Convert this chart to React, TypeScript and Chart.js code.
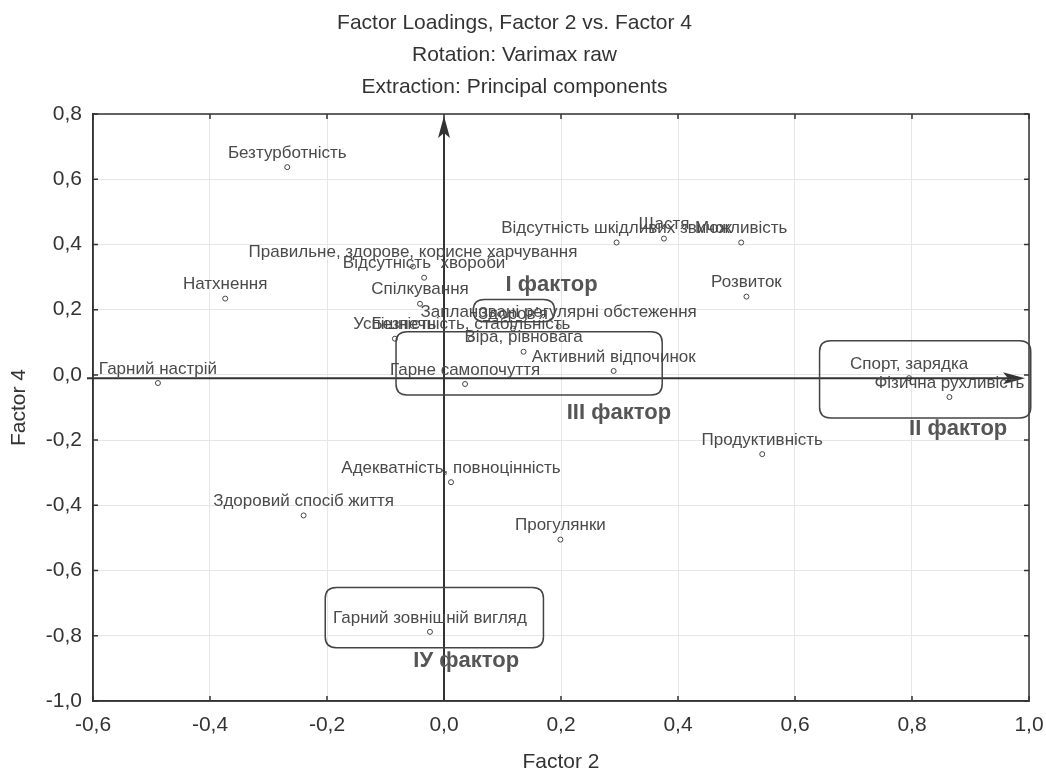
import React, { useEffect, useRef } from "react";
import { Chart, registerables } from "chart.js";

Chart.register(...registerables);

const titleLines = [
  "Factor Loadings, Factor 2 vs. Factor 4",
  "Rotation: Varimax raw",
  "Extraction: Principal components",
];

const categories = [
  "Безтурботність",
  "Натхнення",
  "Гарний настрій",
  "Правильне, здорове, корисне харчування",
  "Відсутність  хвороби",
  "Спілкування",
  "Успішність",
  "Безпечність, стабільність",
  "Здоров'я",
  "Заплановані регулярні обстеження",
  "Віра, рівновага",
  "Активний відпочинок",
  "Гарне самопочуття",
  "Відсутність шкідливих звичок",
  "Щастя",
  "Можливість",
  "Розвиток",
  "Спорт, зарядка",
  "Фізична рухливість",
  "Продуктивність",
  "Адекватність, повноцінність",
  "Здоровий спосіб життя",
  "Прогулянки",
  "Гарний зовнішній вигляд",
];

const factor2 = [
  -0.268, -0.374, -0.489, -0.053, -0.034, -0.041, -0.084, 0.046, 0.118, 0.196,
  0.136, 0.29, 0.036, 0.295, 0.376, 0.508, 0.517, 0.795, 0.864, 0.544, 0.012,
  -0.24, 0.199, -0.024,
];

const factor4 = [
  0.637, 0.234, -0.025, 0.332, 0.298, 0.218, 0.111, 0.111, 0.142, 0.148, 0.071,
  0.012, -0.028, 0.406, 0.418, 0.406, 0.24, -0.01, -0.068, -0.243, -0.329,
  -0.431, -0.505, -0.788,
];

const factorNames = ["I фактор", "II фактор", "III фактор", "IУ фактор"];
const factorNameX = [0.184, 0.879, 0.299, 0.038];
const factorNameY = [0.277, -0.166, -0.117, -0.877];

const groupX0 = [0.05, 0.642, -0.082, -0.203];
const groupX1 = [0.189, 1.003, 0.373, 0.17];
const groupY0 = [0.231, 0.105, 0.132, -0.652];
const groupY1 = [0.163, -0.132, -0.062, -0.837];

const axisArrowX = 0.0;
const axisArrowY = -0.01;

const xTickValues = [-0.6, -0.4, -0.2, 0, 0.2, 0.4, 0.6, 0.8, 1.0];
const yTickValues = [-1.0, -0.8, -0.6, -0.4, -0.2, 0, 0.2, 0.4, 0.6, 0.8];

const FONT = "'Liberation Sans', Arial, sans-serif";

function fmt(v: number) {
  return v.toFixed(1).replace(".", ",");
}

function roundRect(ctx: CanvasRenderingContext2D, x0: number, y0: number, x1: number, y1: number, r: number) {
  const x = Math.min(x0, x1), y = Math.min(y0, y1);
  const w = Math.abs(x1 - x0), h = Math.abs(y1 - y0);
  ctx.beginPath();
  ctx.moveTo(x + r, y);
  ctx.lineTo(x + w - r, y);
  ctx.quadraticCurveTo(x + w, y, x + w, y + r);
  ctx.lineTo(x + w, y + h - r);
  ctx.quadraticCurveTo(x + w, y + h, x + w - r, y + h);
  ctx.lineTo(x + r, y + h);
  ctx.quadraticCurveTo(x, y + h, x, y + h - r);
  ctx.lineTo(x, y + r);
  ctx.quadraticCurveTo(x, y, x + r, y);
  ctx.closePath();
}

const overlayPlugin = {
  id: "overlay",
  afterDatasetsDraw(chart: any) {
    const ctx: CanvasRenderingContext2D = chart.ctx;
    const xs = chart.scales.x;
    const ys = chart.scales.y;
    const area = chart.chartArea;
    ctx.save();

    // plot frame
    ctx.strokeStyle = "#333";
    ctx.lineWidth = 1.5;
    ctx.strokeRect(area.left, area.top, area.right - area.left, area.bottom - area.top);

    // inward tick marks
    ctx.lineWidth = 1.5;
    ctx.beginPath();
    xTickValues.forEach((v) => {
      const px = xs.getPixelForValue(v);
      ctx.moveTo(px, area.bottom);
      ctx.lineTo(px, area.bottom - 5);
      ctx.moveTo(px, area.top);
      ctx.lineTo(px, area.top + 5);
    });
    yTickValues.forEach((v) => {
      const py = ys.getPixelForValue(v);
      ctx.moveTo(area.left, py);
      ctx.lineTo(area.left + 5, py);
      ctx.moveTo(area.right, py);
      ctx.lineTo(area.right - 5, py);
    });
    ctx.stroke();

    // axis arrows
    ctx.strokeStyle = "#333";
    ctx.fillStyle = "#333";
    ctx.lineWidth = 2;
    const ax = xs.getPixelForValue(axisArrowX);
    const ay = ys.getPixelForValue(axisArrowY);
    ctx.beginPath();
    ctx.moveTo(ax, area.bottom);
    ctx.lineTo(ax, area.top + 18);
    ctx.stroke();
    ctx.beginPath();
    ctx.moveTo(ax, area.top + 2);
    ctx.lineTo(ax - 6, area.top + 24);
    ctx.lineTo(ax, area.top + 19);
    ctx.lineTo(ax + 6, area.top + 24);
    ctx.closePath();
    ctx.fill();

    ctx.beginPath();
    ctx.moveTo(area.left - 6, ay);
    ctx.lineTo(area.right - 20, ay);
    ctx.stroke();
    ctx.beginPath();
    ctx.moveTo(area.right - 4, ay);
    ctx.lineTo(area.right - 26, ay - 6);
    ctx.lineTo(area.right - 21, ay);
    ctx.lineTo(area.right - 26, ay + 6);
    ctx.closePath();
    ctx.fill();

    // group boxes
    ctx.strokeStyle = "#444";
    ctx.lineWidth = 1.5;
    for (let i = 0; i < groupX0.length; i++) {
      roundRect(
        ctx,
        xs.getPixelForValue(groupX0[i]),
        ys.getPixelForValue(groupY0[i]),
        xs.getPixelForValue(groupX1[i]),
        ys.getPixelForValue(groupY1[i]),
        11
      );
      ctx.stroke();
    }

    // point labels
    ctx.fillStyle = "#4a4a4a";
    ctx.font = `17px ${FONT}`;
    ctx.textAlign = "center";
    ctx.textBaseline = "middle";
    const meta = chart.getDatasetMeta(0);
    meta.data.forEach((pt: any, i: number) => {
      ctx.fillText(categories[i], pt.x, pt.y - 14);
    });

    // factor names
    ctx.fillStyle = "#555";
    ctx.font = `bold 22px ${FONT}`;
    for (let i = 0; i < factorNames.length; i++) {
      ctx.fillText(
        factorNames[i],
        xs.getPixelForValue(factorNameX[i]),
        ys.getPixelForValue(factorNameY[i])
      );
    }
    ctx.restore();
  },
};

export default function App() {
  const ref = useRef<HTMLCanvasElement | null>(null);
  useEffect(() => {
    if (!ref.current) return;
    const chart = new Chart(ref.current, {
      type: "scatter",
      data: {
        datasets: [
          {
            data: factor2.map((x, i) => ({ x, y: factor4[i] })),
            pointStyle: "circle",
            pointRadius: 2.5,
            pointBorderWidth: 1,
            pointBorderColor: "#444",
            pointBackgroundColor: "#fff",
          },
        ],
      },
      options: {
        responsive: false,
        animation: false,
        layout: { padding: { left: 0, right: 17, top: 0, bottom: 0 } },
        plugins: {
          legend: { display: false },
          tooltip: { enabled: false },
          title: {
            display: true,
            text: titleLines,
            color: "#333",
            font: { family: FONT, size: 21, weight: "normal", lineHeight: 32 / 21 },
            padding: { top: 7, bottom: 11 },
          },
        },
        scales: {
          x: {
            type: "linear",
            min: -0.6,
            max: 1.0,
            afterFit(scale: any) {
              scale.height = 70;
              scale.paddingLeft = 0;
              scale.paddingRight = 0;
            },
            ticks: {
              stepSize: 0.2,
              color: "#333",
              padding: 12,
              font: { family: FONT, size: 21 },
              callback: (v: any) => fmt(Number(v)),
            },
            grid: { color: "#e6e6e6", drawTicks: false },
            border: { display: true, color: "#333", width: 1.5 },
            title: {
              display: true,
              text: "Factor 2",
              color: "#333",
              font: { family: FONT, size: 21 },
              padding: { top: 0, bottom: -4 },
            },
          },
          y: {
            type: "linear",
            min: -1.0,
            max: 0.8,
            afterFit(scale: any) {
              scale.width = 93;
              scale.paddingTop = 0;
              scale.paddingBottom = 0;
            },
            ticks: {
              stepSize: 0.2,
              color: "#333",
              padding: 11,
              font: { family: FONT, size: 21 },
              callback: (v: any) => fmt(Number(v)),
            },
            grid: { color: "#e6e6e6", drawTicks: false },
            border: { display: true, color: "#333", width: 1.5 },
            title: {
              display: true,
              text: "Factor 4",
              color: "#333",
              font: { family: FONT, size: 21 },
              padding: { top: 7, bottom: 0 },
            },
          },
        },
      },
      plugins: [overlayPlugin],
    });
    return () => chart.destroy();
  }, []);
  return (
    <div style={{ position: "absolute", left: 0, top: 0, width: 1046, height: 771, background: "#fff" }}>
      <canvas ref={ref} width={1046} height={771} />
    </div>
  );
}
